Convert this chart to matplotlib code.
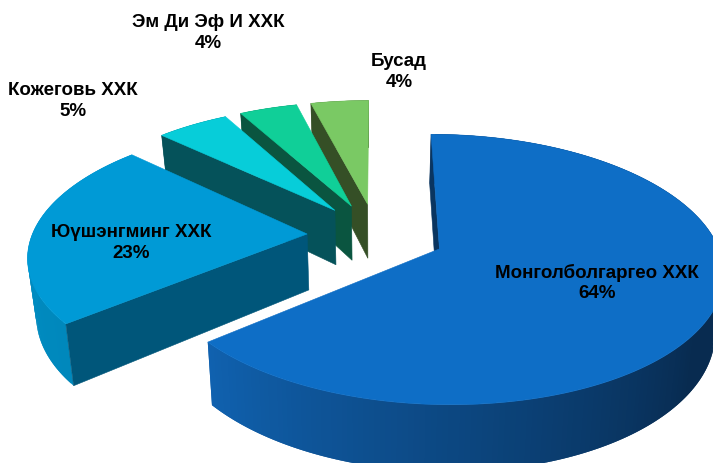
import numpy as np
import matplotlib
matplotlib.use("Agg")
import matplotlib.pyplot as plt
from matplotlib.colors import to_rgb
from matplotlib.patches import Polygon

names = ["Монголболгаргео ХХК", "Юүшэнгминг ХХК", "Кожеговь ХХК", "Эм Ди Эф И ХХК", "Бусад"]
shares = [64, 23, 5, 4, 4]

top_colors = ["#0E6EC6", "#009AD6", "#07CDD9", "#10CF98", "#7AC964"]
cut_colors = ["#0A3560", "#00567A", "#05525A", "#0A5540", "#354F26"]
# outer rim colour at the start and at the end of each slice (clockwise)
rim_start = ["#082B50", "#0088BC", "#05525A", "#0A5540", "#354F26"]
rim_end = ["#1062B0", "#0092C8", "#05525A", "#0A5540", "#354F26"]

label_pos = [(597, 283), (131, 243), (73, 101), (208, 33), (399, 72)]

# projection of the tilted pie, in pixels
CX, CY = 376, 235
RADIUS = 275
EXPLODE = 69
TILT = 0.465
PERSP = 0.15
DEPTH = 56
SHRINK = 0.975


def project(x, y):
    s = 1 / (1 + PERSP * y / RADIUS)
    return CX + x * s, CY - TILT * y * s, s


def project_low(x, y):
    # same ground point on the underside of the pie
    sx, sy, s = project(x, y)
    return CX + (sx - CX) * SHRINK, sy + DEPTH * s


def add_poly(ax, pts, color):
    ax.add_patch(Polygon(pts, closed=True, facecolor=color, edgecolor=color, lw=0.4))


fig = plt.figure(figsize=(7.13, 4.63), dpi=100)
ax = fig.add_axes([0, 0, 1, 1])
ax.set_xlim(0, 713)
ax.set_ylim(463, 0)
ax.axis("off")

edges = np.cumsum([0] + shares) / sum(shares) * 2 * np.pi

# back slices first, the large front slice last
for i in range(len(shares) - 1, -1, -1):
    a0, a1 = edges[i], edges[i + 1]
    mid = (a0 + a1) / 2
    ox, oy = EXPLODE * np.sin(mid), EXPLODE * np.cos(mid)
    t = np.linspace(a0, a1, max(int(np.degrees(a1 - a0)), 12) + 1)
    gx = ox + RADIUS * np.sin(t)
    gy = oy + RADIUS * np.cos(t)

    top = [project(x, y)[:2] for x, y in zip(gx, gy)]
    low = [project_low(x, y) for x, y in zip(gx, gy)]
    apex_top = project(ox, oy)[:2]
    apex_low = project_low(ox, oy)

    # rim, small overlapping pieces for the shading
    c0, c1 = np.array(to_rgb(rim_start[i])), np.array(to_rgb(rim_end[i]))
    for j in range(len(t) - 1):
        if i == 0:
            # the big slice stays dark on the right and gets lighter to the left
            f = np.clip((np.degrees(t[j]) - 125) / (np.degrees(a1) - 125), 0, 1)
        else:
            f = j / (len(t) - 2)
        k = min(j + 2, len(t) - 1)
        ax.add_patch(Polygon([top[j], top[k], low[k], low[j]], closed=True,
                             facecolor=tuple(c0 + (c1 - c0) * f), edgecolor="none"))

    # only the cut face at the start of a slice can be seen
    add_poly(ax, [apex_top, top[0], low[0], apex_low], cut_colors[i])

    add_poly(ax, [apex_top] + top, top_colors[i])

for name, share, (x, y) in zip(names, shares, label_pos):
    ax.text(x, y, f"{name}\n{share}%", ha="center", va="center", fontsize=13.5,
            fontweight="bold", family="Liberation Sans", color="black", linespacing=1.3)

fig.savefig("out.png", dpi=100)
